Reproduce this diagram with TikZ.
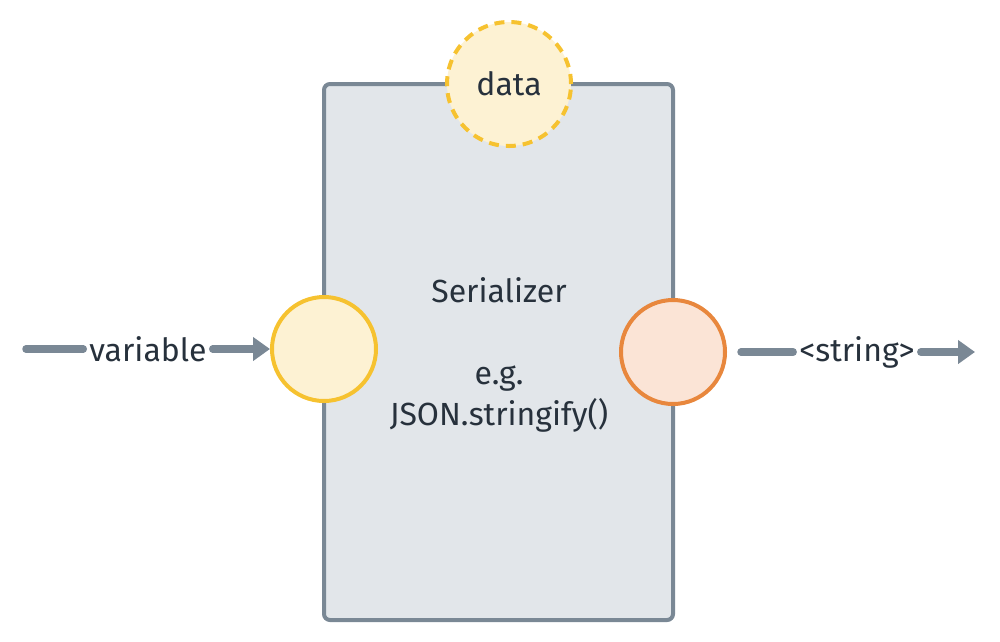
\documentclass[tikz,border=0pt]{standalone}
\usepackage{fontspec}
\setmainfont{Fira Sans}
\usepackage{xcolor}
\usepackage{tikz}
\usetikzlibrary{positioning,arrows.meta,calc}
\definecolor{linegray}{HTML}{7A8895}
\definecolor{boxfill}{HTML}{E2E6EA}
\definecolor{yellowfill}{HTML}{FDF2D3}
\definecolor{yellowline}{HTML}{F6C230}
\definecolor{orangefill}{HTML}{FBE4D6}
\definecolor{orangeline}{HTML}{E8873D}
\definecolor{textdark}{HTML}{27313C}
\tikzset{
   serializer box/.style={
      draw=linegray, fill=boxfill, line width=4pt,
      rounded corners=6pt, outer sep=0pt,
      minimum width=349pt, minimum height=536pt},
   port/.style={
      circle, line width=4pt, inner sep=0pt, minimum size=104pt},
   in port/.style={port, draw=yellowline, fill=yellowfill},
   out port/.style={port, draw=orangeline, fill=orangefill},
   data port/.style={port, draw=yellowline, fill=yellowfill,
      dash pattern=on 10pt off 7pt, minimum size=124pt},
   flow/.style={draw=linegray, line width=7.5pt, line cap=round},
   flow tip/.style={flow, -{Triangle[length=17pt,width=23pt]}},
   flow label/.style={text=textdark, inner xsep=6pt, inner ysep=0pt}
}

\begin{document}
\begin{tikzpicture}[x=1pt, y=-1pt, font=\fontsize{32}{41}\selectfont]
    \useasboundingbox (0,0) rectangle (1000,641);
    % Serializer box with its three ports
    \node[serializer box] (box) at (498.5,352) {};
    \node[data port] (data) at ([xshift=10.5pt]box.north) {\textcolor{textdark}{data}};
    \node[in port] (inport) at ([yshift=3pt]box.west) {};
    \node[out port] (outport) at (box.east) {};

    % Text inside the box
    \node[text=textdark, align=center] (boxtext) at (499,355)
       {Serializer\\ \\ e.g.\\ JSON.stringify()};

    % Incoming variable
    \coordinate (varin) at (26,349);
    \node[flow label] (varlabel) at (148,349) {variable};
    \draw[flow] (varin) -- (varlabel.west);
    \draw[flow tip] (varlabel.east) -- (inport.west);

    % Outgoing string
    \coordinate (strout) at (975,352);
    \node[flow label] (strlabel) at (857,352) {<string>};
    \draw[flow] ([xshift=14pt]outport.east) -- (strlabel.west);
    \draw[flow tip] (strlabel.east) -- (strout);
\end{tikzpicture}
\end{document}
